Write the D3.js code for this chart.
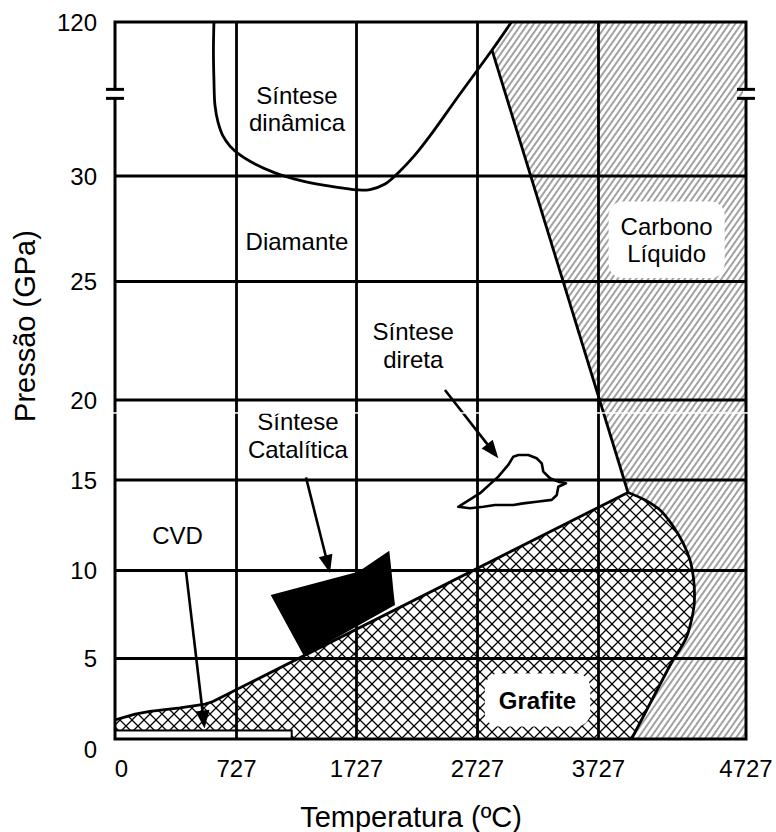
<!DOCTYPE html>
<html>
<head>
<meta charset="utf-8">
<script src="https://cdn.jsdelivr.net/npm/d3@7"></script>
<style>
  html, body { margin: 0; padding: 0; background: #fff; }
  svg { display: block; }
  text { font-family: "Liberation Sans", Arial, sans-serif; fill: #000; }
</style>
</head>
<body>
<svg id="chart" width="776" height="832"></svg>
<script>
// Axis tick values: temperature (°C) and pressure (GPa)
const temperatureTicks = [0, 727, 1727, 2727, 3727, 4727];
const pressureTicks = [0, 5, 10, 15, 20, 25, 30, 120];

// Dynamic (shock) synthesis boundary [°C, GPa]
const dynamicSynthesis = [
  [592, 120], [589, 103.6], [592, 86.1], [598, 71.5], [616, 61.6], [646, 53.4],
  [688, 47.5], [756, 42.3], [881, 37.0], [1048, 31.8], [1256, 29.79], [1464, 29.55],
  [1631, 29.41], [1731, 29.34], [1839, 29.36], [1963, 29.62], [2087, 32.9],
  [2211, 42.3], [2334, 53.4], [2582, 77.9], [2847, 103.6], [3008, 120]
];

// Diamond / graphite equilibrium line, ending at the triple point
const diamondGraphiteLine = [
  [0, 1.18], [120, 1.55], [209, 1.71], [389, 1.93], [539, 2.17], [586, 2.33], [3927, 14.31]
];

// Diamond / liquid melting line
const meltingLine = [[2847, 103.6], [3927, 14.31]];

// Graphite / liquid boundary (curved part, then straight lower part)
const graphiteLiquidCurve = [
  [3927, 14.31], [4042, 13.90], [4144, 13.34], [4232, 12.46], [4300, 11.52],
  [4347, 10.58], [4371, 9.57], [4378, 8.61], [4374, 7.93], [4354, 7.07],
  [4324, 6.22], [4280, 5.54], [4236, 5.0]
];
const graphiteLiquidBase = [[4236, 5.0], [3951, 0]];

// Catalytic synthesis window
const catalyticRegion = [
  [1012, 8.61], [1742, 9.93], [1998, 11.09], [2018, 9.84], [2031, 8.89], [2045, 8.04], [1289, 5.14]
];

// Direct synthesis window
const directRegion = [
  [2568, 13.52], [2748, 14.27], [2899, 15.21], [2981, 15.94], [3023, 16.46], [3064, 16.56],
  [3147, 16.56], [3216, 16.36], [3258, 16.04], [3271, 15.52], [3326, 15.11], [3395, 14.91],
  [3458, 14.82], [3395, 14.63], [3382, 14.17], [3341, 13.90], [3216, 13.80], [3105, 13.71],
  [3023, 13.62], [2872, 13.62], [2775, 13.52], [2665, 13.44]
];

// CVD window: temperature range and pressure range
const cvdTemperature = [0, 1187];
const cvdPressure = [0, 0.53];

// Pointer arrows: [start, tip]
const arrows = [
  [[425, 9.94], [536, 0.65]],
  [[1306, 15.16], [1506, 9.86]],
  [[2458, 20.42], [2899, 16.36]]
];

// Region labels (anchor = centre of first line)
const labels = [
  { lines: ["Síntese", "dinâmica"], t: 1231, p: 77.3 },
  { lines: ["Diamante"], t: 1231, p: 26.9 },
  { lines: ["Síntese", "direta"], t: 2196, p: 22.88 },
  { lines: ["Síntese", "Catalítica"], t: 1239, p: 18.64 },
  { lines: ["CVD"], t: 374, p: 11.96 },
  { lines: ["Carbono", "Líquido"], t: 4189, p: 27.63, pad: [12, 11] },
  { lines: ["Grafite"], t: 3223, p: 2.42, bold: true, pad: [14, 13] }
];

// Axis break position on the pressure axis
const pressureBreak = 78;

const svg = d3.select("#chart");
const W = 776, H = 832;
const plot = { left: 115, right: 746, top: 22, bottom: 739 };

// Piecewise scales: the diagram's axes are not uniformly spaced
const x = d3.scaleLinear()
  .domain(temperatureTicks)
  .range([plot.left, 236.5, 356.5, 477.5, 598.5, plot.right]);
const y = d3.scaleLinear()
  .domain(pressureTicks)
  .range([plot.bottom, 658.5, 570.5, 480, 400, 281.5, 176, plot.top]);

const pt = d => [x(d[0]), y(d[1])];
const lineLinear = d3.line().x(d => x(d[0])).y(d => y(d[1]));
const lineCurve = d3.line().x(d => x(d[0])).y(d => y(d[1])).curve(d3.curveCatmullRom.alpha(0.5));
const cont = s => s.replace(/^M/, "L");

svg.append("rect").attr("width", W).attr("height", H).attr("fill", "#fff");

// Fill patterns
const defs = svg.append("defs");
const hatch = defs.append("pattern")
  .attr("id", "liquidHatch").attr("patternUnits", "userSpaceOnUse")
  .attr("width", 5).attr("height", 10).attr("patternTransform", "rotate(35)");
hatch.append("line").attr("x1", 1).attr("y1", -1).attr("x2", 1).attr("y2", 11)
  .attr("stroke", "#444").attr("stroke-width", 1);

const cross = defs.append("pattern")
  .attr("id", "graphiteHatch").attr("patternUnits", "userSpaceOnUse")
  .attr("width", 12).attr("height", 12);
cross.append("path").attr("d", "M-1,-1L13,13M13,-1L-1,13")
  .attr("stroke", "#000").attr("stroke-width", 1.3);

const clip = defs.append("clipPath").attr("id", "plotClip");
clip.append("rect").attr("x", plot.left).attr("y", plot.top)
  .attr("width", plot.right - plot.left).attr("height", plot.bottom - plot.top);

const g = svg.append("g").attr("clip-path", "url(#plotClip)");

// Liquid carbon region
const curvePath = lineCurve(graphiteLiquidCurve);
const liquidPath =
  lineLinear([[3008, 120], ...meltingLine]) +
  cont(curvePath) +
  cont(lineLinear(graphiteLiquidBase)) +
  cont(lineLinear([[4727, 0], [4727, 120]])) + "Z";
g.append("path").attr("d", liquidPath).attr("fill", "url(#liquidHatch)");

// Graphite region
const graphitePath =
  lineLinear(diamondGraphiteLine) +
  cont(curvePath) +
  cont(lineLinear(graphiteLiquidBase)) +
  cont(lineLinear([[0, 0]])) + "Z";
g.append("path").attr("d", graphitePath).attr("fill", "url(#graphiteHatch)");

// Labels (labels placed on a hatched area get a white backing)
const labelLayer = svg.append("g");
const boxLayer = g.append("g");
labels.forEach(l => {
  const cx = x(l.t), cy = y(l.p);
  const t = labelLayer.append("text")
    .attr("text-anchor", "middle")
    .attr("font-size", 24)
    .attr("font-weight", l.bold ? "bold" : "normal");
  l.lines.forEach((s, i) => {
    t.append("tspan").attr("x", cx).attr("y", cy + 8.5 + i * 27.5).text(s);
  });
  if (l.pad) {
    const b = t.node().getBBox();
    boxLayer.append("rect")
      .attr("x", b.x - l.pad[0]).attr("y", b.y - l.pad[1])
      .attr("width", b.width + 2 * l.pad[0]).attr("height", b.height + 2 * l.pad[1])
      .attr("rx", 14).attr("fill", "#fff");
  }
});

// CVD window
g.append("rect")
  .attr("x", x(cvdTemperature[0])).attr("y", y(cvdPressure[1]))
  .attr("width", x(cvdTemperature[1]) - x(cvdTemperature[0]))
  .attr("height", y(cvdPressure[0]) - y(cvdPressure[1]))
  .attr("fill", "#fff").attr("stroke", "#000").attr("stroke-width", 2);

// Grid
const grid = svg.append("g").attr("stroke", "#000").attr("stroke-width", 2.8);
temperatureTicks.slice(1, -1).forEach(v => {
  grid.append("line").attr("x1", x(v)).attr("x2", x(v)).attr("y1", plot.top).attr("y2", plot.bottom);
});
pressureTicks.slice(1, -1).forEach(v => {
  grid.append("line").attr("x1", plot.left).attr("x2", plot.right).attr("y1", y(v)).attr("y2", y(v));
});

// Frame
svg.append("rect")
  .attr("x", plot.left).attr("y", plot.top)
  .attr("width", plot.right - plot.left).attr("height", plot.bottom - plot.top)
  .attr("fill", "none").attr("stroke", "#000").attr("stroke-width", 3);

// Phase boundaries
const bounds = g.append("g").attr("fill", "none").attr("stroke", "#000")
  .attr("stroke-width", 2.8).attr("stroke-linejoin", "round");
bounds.append("path").attr("d", lineLinear(diamondGraphiteLine));
bounds.append("path").attr("d", lineLinear(meltingLine));
bounds.append("path").attr("d", curvePath + cont(lineLinear(graphiteLiquidBase)));
bounds.append("path").attr("d", lineCurve(dynamicSynthesis));

// Synthesis windows
g.append("path").attr("d", lineLinear(catalyticRegion) + "Z").attr("fill", "#000");
g.append("path").attr("d", lineLinear(directRegion) + "Z")
  .attr("fill", "none").attr("stroke", "#000").attr("stroke-width", 2.6).attr("stroke-linejoin", "round");

// Arrows
arrows.forEach(([a, b]) => {
  const [x0, y0] = pt(a), [x1, y1] = pt(b);
  const dx = x1 - x0, dy = y1 - y0, len = Math.hypot(dx, dy);
  const ux = dx / len, uy = dy / len, head = 18, half = 7;
  svg.append("line")
    .attr("x1", x0).attr("y1", y0)
    .attr("x2", x1 - ux * head * 0.8).attr("y2", y1 - uy * head * 0.8)
    .attr("stroke", "#000").attr("stroke-width", 2.6);
  const bx = x1 - ux * head, by = y1 - uy * head;
  svg.append("path")
    .attr("d", `M${x1},${y1}L${bx - uy * half},${by + ux * half}L${bx + uy * half},${by - ux * half}Z`)
    .attr("fill", "#000");
});

labelLayer.raise();

// Axis break marks
[plot.left, plot.right].forEach(px => {
  const by = y(pressureBreak);
  svg.append("rect").attr("x", px - 3).attr("y", by - 3.5).attr("width", 6).attr("height", 7).attr("fill", "#fff");
  [by - 4.5, by + 4.5].forEach(yy => {
    svg.append("line").attr("x1", px - 9).attr("x2", px + 9).attr("y1", yy).attr("y2", yy)
      .attr("stroke", "#000").attr("stroke-width", 3);
  });
});

// Tick labels
pressureTicks.forEach(v => {
  svg.append("text")
    .attr("x", plot.left - 18)
    .attr("y", y(v) + 8.5 + (v === 0 ? 10 : 0))
    .attr("text-anchor", "end").attr("font-size", 24)
    .text(v);
});
temperatureTicks.forEach(v => {
  svg.append("text")
    .attr("x", x(v) + (v === 0 ? 6.5 : 0))
    .attr("y", 777)
    .attr("text-anchor", "middle").attr("font-size", 24)
    .text(v);
});

// Axis titles
svg.append("text").attr("x", 411).attr("y", 827)
  .attr("text-anchor", "middle").attr("font-size", 29)
  .text("Temperatura (ºC)");
svg.append("text")
  .attr("transform", "translate(35,326) rotate(-90)")
  .attr("text-anchor", "middle").attr("font-size", 29)
  .text("Pressão (GPa)");

// Thin white seam across the diagram
svg.append("rect").attr("x", plot.left - 2).attr("y", y(19.19) - 0.75)
  .attr("width", plot.right - plot.left + 4).attr("height", 1.5).attr("fill", "#fff");
</script>
</body>
</html>
